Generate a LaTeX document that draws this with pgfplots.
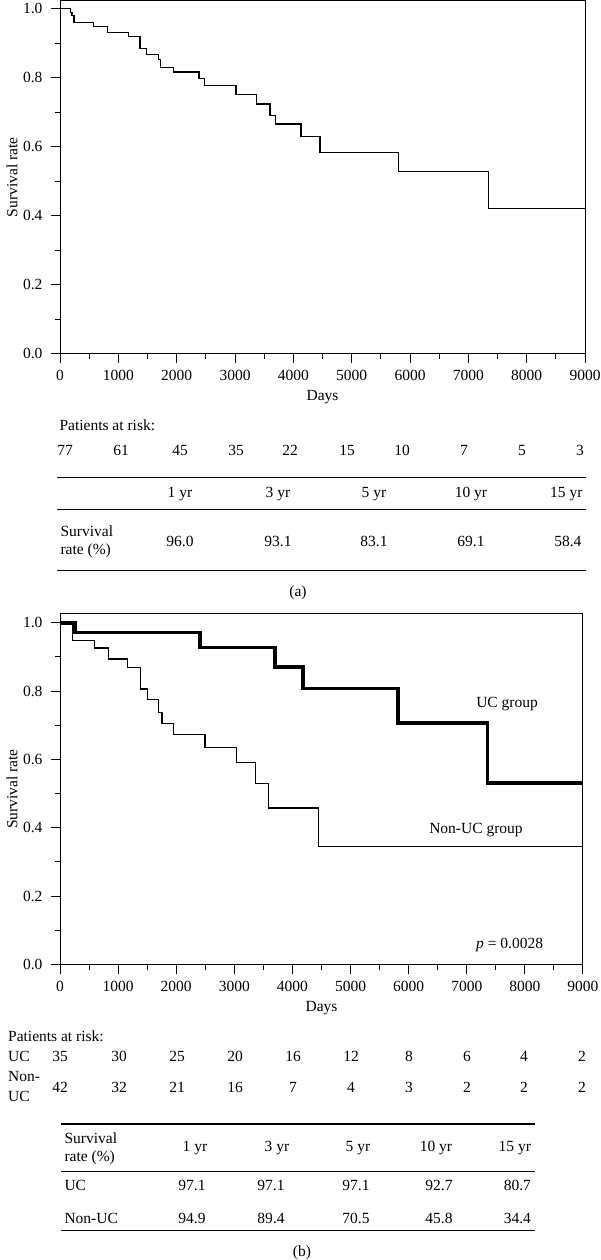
\documentclass[border=0pt]{standalone}
\usepackage{fontspec}
\setmainfont{Liberation Serif}
\usepackage{pgfplots}
\pgfplotsset{compat=1.18}
\newcommand\fs{\fontsize{15.5}{18}\selectfont}
\begin{document}
\begin{tikzpicture}[font=\fs]
\useasboundingbox (0,0) rectangle (601pt,-1260pt);
\pgfplotsset{
  km/.style={
    scale only axis,
    xmin=0, xmax=9000, ymin=0,
    xtick={0,1000,2000,3000,4000,5000,6000,7000,8000,9000}, minor x tick num=1,
    ytick={0,0.2,0.4,0.6,0.8,1.0}, minor y tick num=1,
    tick align=outside, xtick pos=bottom, ytick pos=left,
    major tick length=9pt, minor tick length=5pt,
    tick style={black, line width=1pt},
    axis line style={line width=1pt},
    ticklabel style={font=\fs},
    label style={font=\fs},
    /pgf/number format/assume math mode=true,
    xticklabel style={/pgf/number format/set thousands separator={}, yshift=-4pt},
    yticklabel style={/pgf/number format/fixed, /pgf/number format/fixed zerofill, /pgf/number format/precision=1, xshift=-5pt},
    xlabel={Days}, ylabel={Survival rate},
    xlabel style={at={(axis description cs:0.5,-0.125)}, anchor=center},
    ylabel style={at={(axis description cs:-0.0914,0.5)}, anchor=center},
    clip=false,
  }
}
% ---------- panel (a)
\begin{axis}[km, at={(60pt,-353.5pt)}, anchor=south west, width=525pt, height=352.5pt, ymax=1.023]
\addplot[const plot, black, line width=1.1pt] coordinates {
(0,1.0) (183,0.99) (205,0.98) (240,0.960) (571,0.950) (817,0.931) (1171,0.919)
(1371,0.886) (1486,0.869) (1686,0.852) (1726,0.831) (1943,0.817) (2383,0.797)
(2474,0.777) (3017,0.752) (3371,0.724) (3600,0.691) (3697,0.666) (4131,0.631)
(4457,0.584) (5806,0.527) (7341,0.422) (9000,0.422)};
\end{axis}
\node[anchor=west] at (56pt,-425pt) {Patients at risk:};
\foreach \x/\v in {65/77,121/61,180/45,236/35,290/22,347/15,402/10,464/7,522/5,580/3}
  \node at (\x pt,-450pt) {\v};
\draw[line width=1.4pt] (57pt,-477.7pt) -- (586pt,-477.7pt);
\draw[line width=1.4pt] (57pt,-509.5pt) -- (586pt,-509.5pt);
\draw[line width=1.4pt] (57pt,-570.5pt) -- (586pt,-570.5pt);
\foreach \x/\v in {180/1 yr,278/3 yr,374/5 yr,471/10 yr}
  \node at (\x pt,-494pt) {\v};
\node[anchor=east] at (586pt,-494pt) {15 yr};
\node[anchor=west] at (57pt,-530.7pt) {Survival};
\node[anchor=west] at (57pt,-550.7pt) {rate (\%)};
\foreach \x/\v in {180/96.0,278/93.1,374/83.1,471/69.1}
  \node at (\x pt,-541pt) {\v};
\node[anchor=east] at (585pt,-541pt) {58.4};
\node at (298pt,-592.7pt) {(a)};
% ---------- panel (b)
\begin{axis}[km, at={(60pt,-964.5pt)}, anchor=south west, width=523pt, height=351pt, ymax=1.027]
\addplot[const plot, black, line width=3.6pt, line join=miter] coordinates {
(0,1.0) (263,0.971) (2409,0.927) (3700,0.870) (4177,0.807) (5812,0.707) (7355,0.531) (9000,0.531)};
\addplot[const plot, black, line width=1.1pt] coordinates {
(0,1.0) (218,0.949) (590,0.926) (831,0.894) (1165,0.869) (1389,0.806) (1503,0.775)
(1698,0.738) (1755,0.705) (1950,0.672) (2495,0.636) (3041,0.591) (3368,0.529)
(3592,0.458) (4446,0.344) (9000,0.344)};
\node at (axis cs:7693,0.763) {UC group};
\node at (axis cs:7159,0.394) {Non-UC group};
\node at (axis cs:7738,0.056) {\textit{p} = 0.0028};
\end{axis}
\node[anchor=west] at (4.6pt,-1036pt) {Patients at risk:};
\node[anchor=west] at (4.6pt,-1056.7pt) {UC};
\node[anchor=west] at (4.6pt,-1076.7pt) {Non-};
\node[anchor=west] at (4.6pt,-1096.7pt) {UC};
\foreach \x/\v in {60/35,119/30,177/25,235/20,293/16,351/12,409/8,467/6,524/4,582/2}
  \node at (\x pt,-1056.7pt) {\v};
\foreach \x/\v in {60/42,119/32,177/21,235/16,293/7,351/4,409/3,467/2,524/2,582/2}
  \node at (\x pt,-1087.3pt) {\v};
\draw[line width=1.4pt] (61pt,-1124pt) -- (534.5pt,-1124pt);
\draw[line width=1.4pt] (61pt,-1171.7pt) -- (534.5pt,-1171.7pt);
\draw[line width=1.4pt] (61pt,-1230.7pt) -- (534.5pt,-1230.7pt);
\node[anchor=west] at (61pt,-1138.3pt) {Survival};
\node[anchor=west] at (61pt,-1157.7pt) {rate (\%)};
\foreach \x/\v in {195/1 yr,277/3 yr,358/5 yr,436/10 yr}
  \node at (\x pt,-1148.3pt) {\v};
\node[anchor=east] at (534.5pt,-1148.3pt) {15 yr};
\node[anchor=west] at (61pt,-1185pt) {UC};
\foreach \x/\v in {192/97.1,271/97.1,356/97.1,439/92.7}
  \node at (\x pt,-1185pt) {\v};
\node[anchor=east] at (534.5pt,-1185pt) {80.7};
\node[anchor=west] at (61pt,-1218.3pt) {Non-UC};
\foreach \x/\v in {192/94.9,271/89.4,356/70.5,439/45.8}
  \node at (\x pt,-1218.3pt) {\v};
\node[anchor=east] at (534.5pt,-1218.3pt) {34.4};
\node at (302pt,-1252.7pt) {(b)};
\end{tikzpicture}
\end{document}
